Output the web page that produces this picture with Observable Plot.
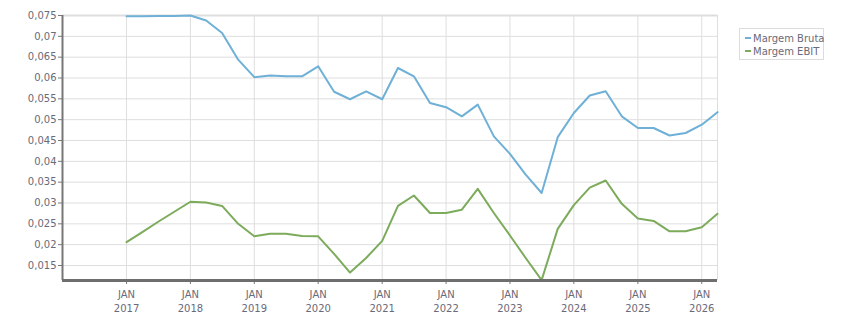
<!DOCTYPE html>
<html>
<head>
<meta charset="utf-8">
<script src="https://cdn.jsdelivr.net/npm/d3@7"></script>
<script src="https://cdn.jsdelivr.net/npm/@observablehq/plot@0.6"></script>
<style>
  html, body { margin: 0; padding: 0; background: #fff; }
  #wrap { position: relative; width: 851px; height: 313px; font-family: "DejaVu Sans", Verdana, sans-serif; }
  #legend { position: absolute; left: 739px; top: 28px; width: 83px; height: 30px; border: 1px solid #dcdcdc; background: #fff; font-size: 10px; color: #6a6a78; }
  #legend .item { position: absolute; left: 5px; white-space: nowrap; line-height: 12px; }
  #legend .sw { display: inline-block; width: 6px; height: 2px; vertical-align: middle; margin-right: 2px; position: relative; top: -1px; }
</style>
</head>
<body>
<div id="wrap"><div id="chart"></div>
<div id="legend"></div></div>
<script>
const dates = ["2017-01","2017-04","2017-07","2017-10","2018-01","2018-04","2018-07","2018-10",
  "2019-01","2019-04","2019-07","2019-10","2020-01","2020-04","2020-07","2020-10",
  "2021-01","2021-04","2021-07","2021-10","2022-01","2022-04","2022-07","2022-10",
  "2023-01","2023-04","2023-07","2023-10","2024-01","2024-04","2024-07","2024-10",
  "2025-01","2025-04","2025-07","2025-10","2026-01","2026-04"];
const bruta = [0.0748,0.0748,0.0749,0.0749,0.0750,0.0738,0.0708,0.0644,
  0.0602,0.0606,0.0604,0.0604,0.0628,0.0567,0.0549,0.0568,
  0.0549,0.0624,0.0604,0.0540,0.0530,0.0508,0.0536,0.0460,
  0.0418,0.0368,0.0324,0.0458,0.0516,0.0558,0.0568,0.0508,
  0.0480,0.0480,0.0462,0.0468,0.0488,0.0518];
const ebit = [0.0206,0.0230,0.0255,0.0279,0.0303,0.0301,0.0293,0.0250,
  0.0220,0.0226,0.0226,0.0221,0.0220,0.0178,0.0133,0.0168,
  0.0209,0.0293,0.0318,0.0276,0.0276,0.0284,0.0334,0.0276,
  0.0222,0.0168,0.0115,0.0238,0.0295,0.0337,0.0354,0.0298,
  0.0263,0.0257,0.0232,0.0232,0.0242,0.0274];
const seriesNames = ["Margem Bruta", "Margem EBIT"];
const seriesColors = ["#6fb0d6", "#7dab5c"];
const yTicks = [0.015,0.02,0.025,0.03,0.035,0.04,0.045,0.05,0.055,0.06,0.065,0.07,0.075];
const xTickYears = [2017,2018,2019,2020,2021,2022,2023,2024,2025,2026];
const monthLabel = "JAN";

const parse = d3.utcParse("%Y-%m");
const rows = [];
dates.forEach((d, i) => {
  rows.push({date: parse(d), value: bruta[i], serie: seriesNames[0]});
});
dates.forEach((d, i) => {
  rows.push({date: parse(d), value: ebit[i], serie: seriesNames[1]});
});
const xTicks = xTickYears.map(y => new Date(Date.UTC(y, 0, 1)));
const xDomain = [new Date(Date.UTC(2016, 0, 1)), new Date(Date.UTC(2026, 3, 1))];
const yDomain = [0.0114, 0.075];
const fmt = v => String(+v.toFixed(3)).replace(".", ",");

const chart = Plot.plot({
  width: 851,
  height: 313,
  marginLeft: 62,
  marginRight: 134,
  marginTop: 15,
  marginBottom: 33,
  style: {fontFamily: "'DejaVu Sans', Verdana, sans-serif", fontSize: "10px", color: "#6a6a78", background: "#fff"},
  x: {type: "utc", domain: xDomain},
  y: {domain: yDomain},
  color: {domain: seriesNames, range: seriesColors},
  marks: [
    Plot.gridX(xTicks, {stroke: "#dedede", strokeOpacity: 1, strokeWidth: 1}),
    Plot.gridY(yTicks, {stroke: "#dedede", strokeOpacity: 1, strokeWidth: 1}),
    Plot.ruleY([yDomain[1]], {stroke: "#dedede", strokeWidth: 2}),
    Plot.ruleX([xDomain[1]], {stroke: "#dedede", strokeWidth: 1}),
    Plot.line(rows, {x: "date", y: "value", z: "serie", stroke: "serie", strokeWidth: 2}),
    Plot.axisY(yTicks, {tickFormat: fmt, tickSize: 4, tickPadding: 2, stroke: "#777", fill: "#6a6a78", fontSize: 10, label: null}),
    Plot.axisX(xTicks, {tickFormat: d => monthLabel + "\n" + d.getUTCFullYear(), tickSize: 4, tickPadding: 4, lineHeight: 1.4, stroke: "#777", fill: "#6a6a78", fontSize: 10, label: null}),
    Plot.ruleX([xDomain[0]], {stroke: "#777", strokeWidth: 2}),
    Plot.ruleY([yDomain[0]], {stroke: "#6e6e6e", strokeWidth: 3})
  ]
});
document.getElementById("chart").appendChild(chart);

const legend = document.getElementById("legend");
seriesNames.forEach((name, i) => {
  const item = document.createElement("div");
  item.className = "item";
  item.style.top = (4 + i * 13) + "px";
  const sw = document.createElement("span");
  sw.className = "sw";
  sw.style.background = seriesColors[i];
  item.appendChild(sw);
  item.appendChild(document.createTextNode(name));
  legend.appendChild(item);
});
</script>
</body>
</html>
